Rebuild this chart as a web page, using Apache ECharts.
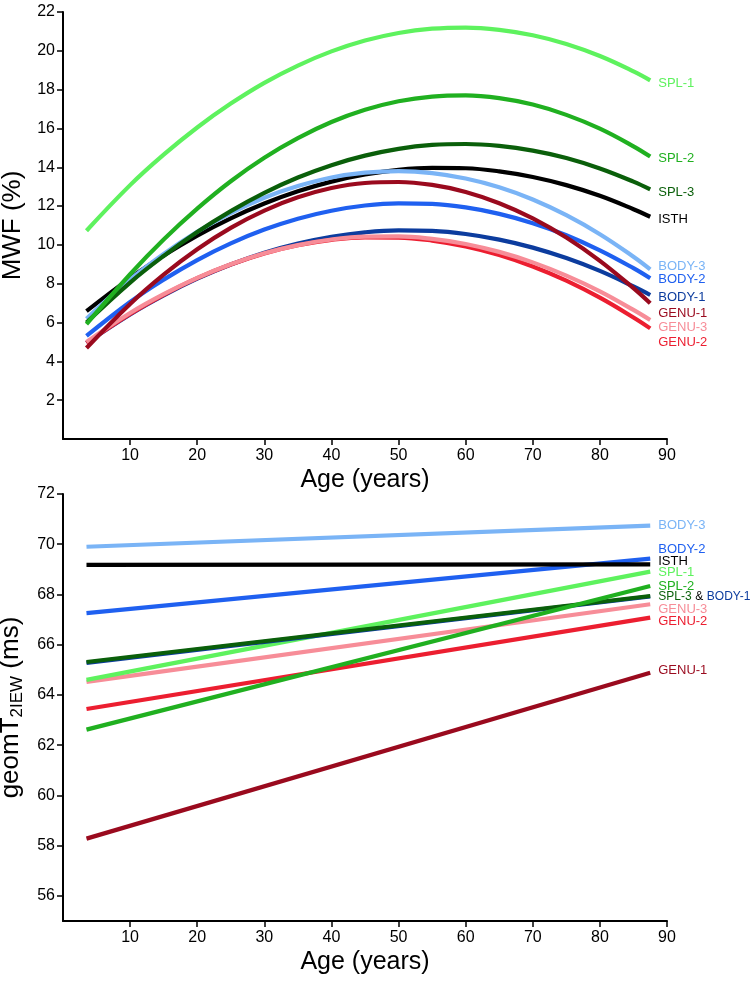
<!DOCTYPE html>
<html>
<head>
<meta charset="utf-8">
<script src="https://cdn.jsdelivr.net/npm/echarts@6.0.0/dist/echarts.min.js"></script>
<style>
  html, body { margin: 0; padding: 0; background: #fff; }
  #chart { width: 750px; height: 981px; }
</style>
</head>
<body>
<div id="chart"></div>
<script>
// ages (years)
const mwfAges = [3.5, 10, 15, 20, 25, 30, 35, 40, 45, 50, 55, 60, 65, 70, 75, 80, 85, 87.5];
const t2Ages = [3.5, 87.5];

// MWF (%) curves
const mwfSpl1 = [10.73, 13.08, 14.65, 16.05, 17.28, 18.35, 19.24, 19.97, 20.53, 20.92, 21.14, 21.2, 21.08, 20.8, 20.35, 19.73, 18.94, 18.48];
const mwfSpl2 = [5.92, 8.49, 10.28, 11.87, 13.28, 14.49, 15.5, 16.33, 16.96, 17.4, 17.64, 17.7, 17.56, 17.23, 16.7, 15.99, 15.08, 14.55];
const mwfSpl3 = [6.0, 8.06, 9.43, 10.66, 11.74, 12.68, 13.47, 14.11, 14.6, 14.95, 15.15, 15.2, 15.1, 14.86, 14.48, 13.94, 13.26, 12.86];
const mwfIsth = [6.59, 8.29, 9.45, 10.48, 11.37, 12.13, 12.76, 13.26, 13.63, 13.87, 13.97, 13.95, 13.79, 13.5, 13.08, 12.53, 11.84, 11.45];
const mwfBody3 = [6.2, 8.22, 9.54, 10.68, 11.64, 12.43, 13.03, 13.47, 13.72, 13.8, 13.7, 13.42, 12.97, 12.34, 11.53, 10.55, 9.39, 8.74];
const mwfBody2 = [5.31, 7.06, 8.21, 9.22, 10.08, 10.79, 11.35, 11.76, 12.03, 12.14, 12.11, 11.93, 11.6, 11.12, 10.5, 9.72, 8.8, 8.28];
const mwfBody1 = [4.95, 6.42, 7.4, 8.26, 8.99, 9.6, 10.07, 10.42, 10.65, 10.75, 10.72, 10.56, 10.27, 9.86, 9.32, 8.66, 7.86, 7.42];
const mwfGenu1 = [4.69, 6.96, 8.47, 9.78, 10.88, 11.77, 12.45, 12.93, 13.19, 13.24, 13.09, 12.73, 12.15, 11.37, 10.38, 9.18, 7.77, 6.99];
const mwfGenu3 = [5.0, 6.49, 7.46, 8.3, 9.0, 9.57, 9.99, 10.28, 10.43, 10.44, 10.31, 10.05, 9.64, 9.1, 8.42, 7.61, 6.65, 6.13];
const mwfGenu2 = [4.95, 6.44, 7.43, 8.29, 8.99, 9.56, 9.98, 10.26, 10.39, 10.38, 10.22, 9.92, 9.48, 8.89, 8.16, 7.28, 6.26, 5.7];

// geomT2IEW (ms) lines
const t2Body3 = [69.9, 70.74];
const t2Isth = [69.18, 69.2];
const t2Body2 = [67.26, 69.43];
const t2Spl3 = [65.31, 67.94];
const t2Body1 = [65.28, 67.92];
const t2Spl1 = [64.6, 68.91];
const t2Genu3 = [64.52, 67.61];
const t2Genu2 = [63.44, 67.08];
const t2Spl2 = [62.62, 68.34];
const t2Genu1 = [58.28, 64.88];

// tick labels
const ageTicks = [10, 20, 30, 40, 50, 60, 70, 80, 90];
const mwfTicks = [2, 4, 6, 8, 10, 12, 14, 16, 18, 20, 22];
const t2Ticks = [56, 58, 60, 62, 64, 66, 68, 70, 72];

const colors = {
  spl1: '#5ef25e',
  spl2: '#20b020',
  spl3: '#0a5f0a',
  isth: '#000000',
  body3: '#7ab4f6',
  body2: '#1f60f0',
  body1: '#0c3c9e',
  genu1: '#9a0a1e',
  genu3: '#f78d98',
  genu2: '#ec1e30'
};

const pairs = (xs, ys) => xs.map((x, i) => [x, ys[i]]);

const makeLine = (idx, name, xs, ys, color, dy, smooth, labelText) => {
  return {
    name: name,
    type: 'line',
    xAxisIndex: idx,
    yAxisIndex: idx,
    data: pairs(xs, ys),
    smooth: smooth,
    showSymbol: false,
    symbol: 'none',
    lineStyle: { color: color, width: 4.2, cap: 'butt' },
    itemStyle: { color: color },
    endLabel: {
      show: labelText !== null,
      formatter: labelText || name,
      color: color,
      fontSize: 13,
      fontFamily: 'Liberation Sans',
      distance: 8,
      offset: [0, dy],
      rich: {
        g: { color: colors.spl3, fontSize: 12, fontFamily: 'Liberation Sans' },
        k: { color: '#000', fontSize: 12, fontFamily: 'Liberation Sans' },
        b: { color: colors.body1, fontSize: 12, fontFamily: 'Liberation Sans' }
      }
    }
  };
};

const axisX = (idx) => ({
  type: 'value',
  gridIndex: idx,
  min: 0,
  max: 90,
  name: 'Age (years)',
  nameLocation: 'middle',
  nameGap: 29,
  nameTextStyle: { fontSize: 25, color: '#000', fontFamily: 'Liberation Sans Narrow, Liberation Sans' },
  axisLine: { show: true, onZero: false, lineStyle: { color: '#000', width: 2 } },
  axisTick: { show: true, customValues: ageTicks, length: 6, lineStyle: { color: '#000', width: 1.5 } },
  axisLabel: { customValues: ageTicks, fontSize: 16, color: '#000', margin: 9, fontFamily: 'Liberation Sans Narrow, Liberation Sans' },
  splitLine: { show: false }
});

const chart = echarts.init(document.getElementById('chart'));

const option = {
  animation: false,
  backgroundColor: '#fff',
  textStyle: { fontFamily: 'Liberation Sans' },
  grid: [
    { left: 63, right: 83, top: 12, bottom: 542, containLabel: false, outerBoundsMode: 'none' },
    { left: 63, right: 83, top: 494, bottom: 60, containLabel: false, outerBoundsMode: 'none' }
  ],
  xAxis: [axisX(0), axisX(1)],
  yAxis: [
    {
      type: 'value',
      gridIndex: 0,
      min: 0,
      max: 22,
      name: 'MWF (%)',
      nameLocation: 'middle',
      nameGap: 33,
      nameTextStyle: { fontSize: 26, color: '#000' },
      axisLine: { show: true, onZero: false, lineStyle: { color: '#000', width: 2 } },
      axisTick: { show: true, customValues: mwfTicks, length: 6, lineStyle: { color: '#000', width: 1.5 } },
      axisLabel: { customValues: mwfTicks, fontSize: 16, color: '#000', margin: 8 },
      splitLine: { show: false }
    },
    {
      type: 'value',
      gridIndex: 1,
      min: 55,
      max: 72,
      name: 'geomT{sub|2IEW} (ms)',
      nameLocation: 'middle',
      nameGap: 32,
      nameTextStyle: {
        fontSize: 26,
        lineHeight: 30,
        color: '#000',
        rich: {
          sub: { fontSize: 17, lineHeight: 30, color: '#000', verticalAlign: 'bottom' }
        }
      },
      axisLine: { show: true, onZero: false, lineStyle: { color: '#000', width: 2 } },
      axisTick: { show: true, customValues: t2Ticks, length: 6, lineStyle: { color: '#000', width: 1.5 } },
      axisLabel: { customValues: t2Ticks, fontSize: 16, color: '#000', margin: 8 },
      splitLine: { show: false }
    }
  ],
  series: [
    makeLine(0, 'BODY-1', mwfAges, mwfBody1, colors.body1, 2, 0.4, 'BODY-1'),
    makeLine(0, 'GENU-2', mwfAges, mwfGenu2, colors.genu2, 14, 0.4, 'GENU-2'),
    makeLine(0, 'GENU-3', mwfAges, mwfGenu3, colors.genu3, 7, 0.4, 'GENU-3'),
    makeLine(0, 'BODY-2', mwfAges, mwfBody2, colors.body2, 1, 0.4, 'BODY-2'),
    makeLine(0, 'GENU-1', mwfAges, mwfGenu1, colors.genu1, 10, 0.4, 'GENU-1'),
    makeLine(0, 'ISTH', mwfAges, mwfIsth, colors.isth, 3, 0.4, 'ISTH'),
    makeLine(0, 'BODY-3', mwfAges, mwfBody3, colors.body3, -3, 0.4, 'BODY-3'),
    makeLine(0, 'SPL-3', mwfAges, mwfSpl3, colors.spl3, 3, 0.4, 'SPL-3'),
    makeLine(0, 'SPL-2', mwfAges, mwfSpl2, colors.spl2, 2, 0.4, 'SPL-2'),
    makeLine(0, 'SPL-1', mwfAges, mwfSpl1, colors.spl1, 3, 0.4, 'SPL-1'),

    makeLine(1, 'GENU-1', t2Ages, t2Genu1, colors.genu1, -2, false, 'GENU-1'),
    makeLine(1, 'GENU-2', t2Ages, t2Genu2, colors.genu2, 4, false, 'GENU-2'),
    makeLine(1, 'GENU-3', t2Ages, t2Genu3, colors.genu3, 5, false, 'GENU-3'),
    makeLine(1, 'SPL-1', t2Ages, t2Spl1, colors.spl1, 1, false, 'SPL-1'),
    makeLine(1, 'BODY-1', t2Ages, t2Body1, colors.body1, 0, false, null),
    makeLine(1, 'SPL-3', t2Ages, t2Spl3, colors.spl3, 1, false, '{g|SPL-3} {k|&} {b|BODY-1}'),
    makeLine(1, 'SPL-2', t2Ages, t2Spl2, colors.spl2, 0, false, 'SPL-2'),
    makeLine(1, 'BODY-2', t2Ages, t2Body2, colors.body2, -9, false, 'BODY-2'),
    makeLine(1, 'ISTH', t2Ages, t2Isth, colors.isth, -3, false, 'ISTH'),
    makeLine(1, 'BODY-3', t2Ages, t2Body3, colors.body3, 0, false, 'BODY-3')
  ]
};

chart.setOption(option);
</script>
</body>
</html>
